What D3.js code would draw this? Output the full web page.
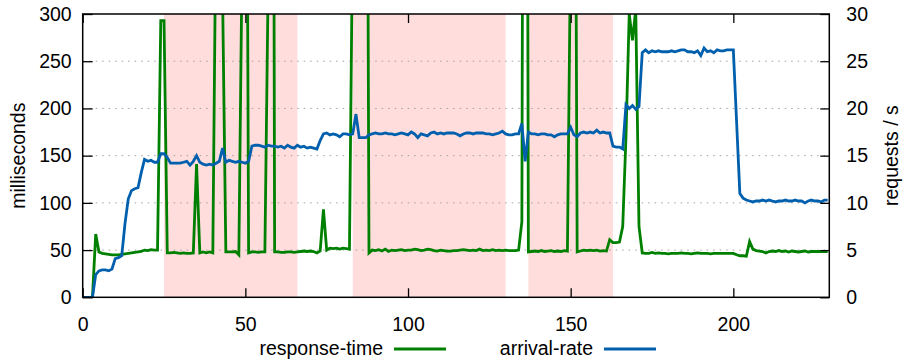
<!DOCTYPE html>
<html>
<head>
<meta charset="utf-8">
<script src="https://cdn.jsdelivr.net/npm/d3@7"></script>
<style>
  body { margin: 0; background: #fff; }
  text { font-family: "Liberation Sans", Arial, sans-serif; }
</style>
</head>
<body>
<svg id="chart" width="905" height="364"></svg>
<script>
// response time in ms, one sample per second (values above 300 are off the chart)
const responseTime = [
  0, 0, 0, 0, 67, 48, 46.5, 46, 45.5, 45,
  45, 45, 45.5, 46, 46.5, 47, 47.5, 48, 48.5, 50,
  49.5, 50.5, 50, 50, 293, 293, 47, 47, 47.5, 47,
  46.5, 47, 46.5, 46.5, 47, 141, 47, 48, 47, 48,
  47, 420, 1000, 320, 48, 48, 48, 48.5, 45, 360,
  900, 47, 48, 48, 47.5, 48, 48, 330, 1500, 48,
  48, 47.5, 47.5, 48, 48, 47.5, 48, 48.5, 49, 48.5,
  49, 48.5, 47, 49, 93, 50, 52, 51.5, 52, 51,
  52, 51.5, 51, 400, 1000, 1000, 1000, 1000, 47, 50,
  49.5, 50.5, 49, 51, 48.5, 50, 49.5, 50, 50.5, 49.5,
  50, 50, 51, 50.5, 49.5, 50, 51, 50.5, 49.5, 49,
  50, 49.5, 49, 49, 49.5, 49.5, 50, 50.5, 50, 49.5,
  50, 49.5, 51, 49.5, 50, 49.5, 50.5, 49.5, 50, 49.5,
  50, 49.5, 49.5, 49.5, 50, 80, 1500, 48, 48.5, 49,
  48.5, 49.5, 48.5, 49, 49.5, 48.5, 49, 48.5, 49.5, 49,
  384, 888, 48, 49, 50, 49.5, 50, 49.5, 50, 49,
  49.5, 49, 61, 58, 58, 58.5, 75, 170, 300, 272,
  305, 75, 47, 46.5, 46.5, 47.5, 46.5, 47, 46.5, 46.5,
  46, 46.5, 46.5, 46.5, 47, 46.5, 46.5, 46, 46.5, 47,
  46.5, 46.5, 46.5, 46, 46.5, 46.5, 46.5, 46.5, 46.5, 46.5,
  46.5, 45, 44, 44, 43.5, 59, 51, 49.5, 49, 48.5,
  47, 48.5, 49, 48.5, 49.5, 48.5, 49, 48, 49, 48.5,
  48, 48.5, 49, 48, 48.5, 48.5, 48.5, 48.5, 48.5, 48.5
];

// arrival rate in requests / s
const arrivalRate = [
  0, 0, 0, 0, 2.4, 2.8, 2.9, 2.9, 2.8, 3.0,
  4.1, 4.2, 4.4, 7.8, 10.4, 11.3, 11.5, 11.6, 13.2, 14.6,
  14.4, 14.5, 14.3, 14.3, 15.2, 15.2, 14.8, 14.2, 14.2, 14.2,
  14.2, 14.3, 14.4, 14.0, 14.4, 15.0, 14.3, 14.1, 14.0, 14.1,
  14.0, 14.2, 14.4, 15.8, 14.3, 14.5, 14.4, 14.3, 14.4, 14.3,
  14.2, 14.4, 16.0, 16.1, 16.1, 16.0, 15.9, 16.1, 16.0, 16.0,
  15.9, 16.0, 15.8, 16.1, 15.9, 15.8, 16.1, 15.9, 16.0, 15.8,
  15.9, 15.8, 15.7, 16.6, 17.3, 17.4, 17.2, 17.3, 17.2, 17.0,
  17.3, 17.3, 17.2, 17.3, 19.4, 16.9, 16.9, 16.9, 17.2, 17.3,
  17.4, 17.3, 17.3, 17.4, 17.3, 17.3, 17.2, 17.3, 17.4, 17.3,
  17.2, 17.5, 17.3, 16.9, 17.3, 17.2, 17.1, 17.4, 17.5, 17.3,
  17.4, 17.3, 17.4, 17.4, 17.4, 17.3, 17.1, 17.3, 17.4, 17.4,
  17.3, 17.4, 17.4, 17.4, 17.3, 17.3, 17.2, 17.3, 17.4, 17.6,
  17.3, 17.2, 17.2, 17.3, 17.3, 18.4, 14.4, 17.5, 17.3, 17.3,
  17.2, 17.3, 17.3, 17.2, 17.2, 17.0, 17.2, 17.3, 17.3, 17.3,
  18.0, 17.2, 17.0, 17.4, 17.5, 17.4, 17.5, 17.4, 17.7, 17.4,
  17.5, 17.4, 17.4, 16.0, 15.9, 15.9, 15.7, 20.4, 20.0, 20.3,
  19.9, 20.2, 25.9, 26.2, 25.9, 26.1, 26.0, 26.1, 26.0, 26.0,
  26.0, 26.1, 26.0, 26.1, 26.2, 26.2, 26.0, 26.0, 25.9, 26.1,
  25.6, 26.4, 26.0, 26.1, 25.9, 26.2, 26.1, 26.1, 26.2, 26.2,
  26.2, 18.6, 11.0, 10.5, 10.3, 10.2, 10.1, 10.2, 10.2, 10.3,
  10.2, 10.3, 10.2, 10.1, 10.2, 10.2, 10.3, 10.2, 10.2, 10.3,
  10.2, 10.2, 10.0, 10.2, 10.3, 10.2, 10.2, 10.1, 10.3, 10.3
];

// shaded time windows [start, end]
const shadedWindows = [[25, 66], [83, 130], [137, 163]];

const xTicks = [0, 50, 100, 150, 200];
const yTicks = [0, 50, 100, 150, 200, 250, 300];
const y2Ticks = [0, 5, 10, 15, 20, 25, 30];
const seriesNames = ['response-time', 'arrival-rate'];
const seriesColors = ['#008000', '#0060ad'];

const margin = {top: 14, right: 75.7, bottom: 66.7, left: 82.7};
const svg = d3.select('#chart');
const width = 905 - margin.left - margin.right;
const height = 364 - margin.top - margin.bottom;
const fontSize = '19.5px';

const x = d3.scaleLinear().domain([0, 229.5]).range([0, width]);
const y = d3.scaleLinear().domain([0, 300]).range([height, 0]);
const y2 = d3.scaleLinear().domain([0, 30]).range([height, 0]);

svg.append('defs').append('clipPath').attr('id', 'plotclip')
  .append('rect').attr('width', width).attr('height', height);

const g = svg.append('g')
  .attr('transform', 'translate(' + margin.left + ',' + margin.top + ')');

// shaded windows
g.selectAll('.shade')
  .data(shadedWindows)
  .enter().append('rect')
  .attr('class', 'shade')
  .attr('x', d => x(d[0]))
  .attr('y', 0)
  .attr('width', d => x(d[1]) - x(d[0]))
  .attr('height', height)
  .attr('fill', '#ffdddd');

// dotted grid
g.selectAll('.grid')
  .data(yTicks.filter(d => d > 0 && d < 300))
  .enter().append('line')
  .attr('class', 'grid')
  .attr('x1', 0).attr('x2', width)
  .attr('y1', d => y(d)).attr('y2', d => y(d))
  .attr('stroke', '#a0a0a0')
  .attr('stroke-width', 1)
  .attr('stroke-dasharray', '1.5,5');

// series
const lineRt = d3.line().x((d, i) => x(i)).y(d => y(d));
const lineAr = d3.line().x((d, i) => x(i)).y(d => y2(d));
const plot = g.append('g').attr('clip-path', 'url(#plotclip)');
plot.append('path')
  .datum(responseTime)
  .attr('d', lineRt)
  .attr('fill', 'none')
  .attr('stroke', seriesColors[0])
  .attr('stroke-width', 2.8);
plot.append('path')
  .datum(arrivalRate)
  .attr('d', lineAr)
  .attr('fill', 'none')
  .attr('stroke', seriesColors[1])
  .attr('stroke-width', 2.8);

// axes
function styleAxis(sel) {
  sel.select('.domain').remove();
  sel.selectAll('line').attr('stroke', '#000').attr('stroke-width', 1.3);
  sel.selectAll('text').attr('font-size', fontSize).attr('fill', '#000')
    .attr('font-family', '"Liberation Sans", Arial, sans-serif');
}

g.append('g')
  .attr('transform', 'translate(0,' + height + ')')
  .call(d3.axisBottom(x).tickValues(xTicks).tickSizeInner(-9).tickSizeOuter(0).tickPadding(20))
  .call(styleAxis);
g.append('g')
  .call(d3.axisTop(x).tickValues(xTicks).tickSizeInner(-9).tickSizeOuter(0).tickFormat(''))
  .call(styleAxis);
g.append('g')
  .call(d3.axisLeft(y).tickValues(yTicks).tickSizeInner(-10).tickSizeOuter(0).tickPadding(11))
  .call(styleAxis);
g.append('g')
  .attr('transform', 'translate(' + width + ',0)')
  .call(d3.axisRight(y2).tickValues(y2Ticks).tickSizeInner(-9).tickSizeOuter(0).tickPadding(17))
  .call(styleAxis);

// border
g.append('rect')
  .attr('width', width).attr('height', height)
  .attr('fill', 'none').attr('stroke', '#000').attr('stroke-width', 1.5);

// axis titles
svg.append('text')
  .attr('transform', 'translate(25,' + (margin.top + height / 2) + ') rotate(-90)')
  .attr('text-anchor', 'middle')
  .attr('font-size', fontSize)
  .text('milliseconds');
svg.append('text')
  .attr('transform', 'translate(898,' + (margin.top + height / 2) + ') rotate(-90)')
  .attr('text-anchor', 'middle')
  .attr('font-size', fontSize)
  .text('requests / s');

// legend
const legendX = [383, 593];
const legend = svg.selectAll('.legend')
  .data(seriesNames)
  .enter().append('g')
  .attr('class', 'legend')
  .attr('transform', (d, i) => 'translate(' + legendX[i] + ',349)');
legend.append('text')
  .attr('text-anchor', 'end')
  .attr('y', 6)
  .attr('font-size', fontSize)
  .text(d => d);
legend.append('line')
  .attr('x1', 11).attr('x2', 63)
  .attr('stroke', (d, i) => seriesColors[i])
  .attr('stroke-width', 2.8);
</script>
</body>
</html>
